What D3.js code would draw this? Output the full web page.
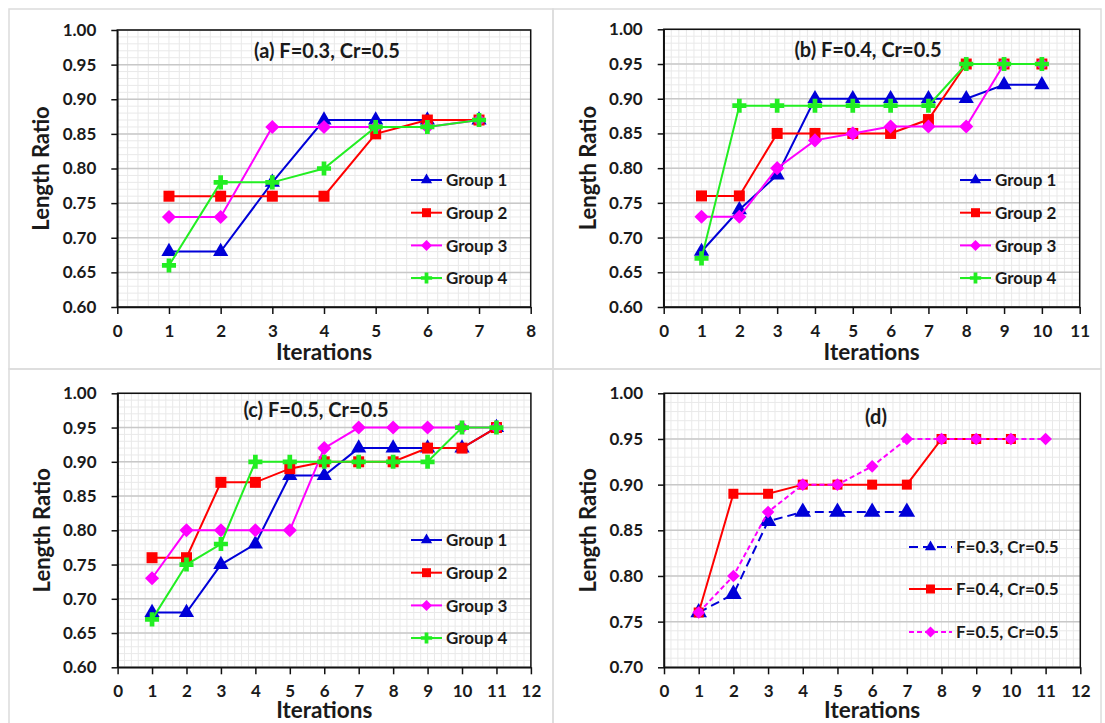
<!DOCTYPE html>
<html>
<head>
<meta charset="utf-8">
<script src="https://cdn.jsdelivr.net/npm/d3@7"></script>
<style>
  body { margin: 0; background: #fff; }
  svg text { font-family: Lato, 'Open Sans', sans-serif; font-weight: bold; fill: #1a1a1a; }
</style>
</head>
<body>
<svg id="chart" width="1105" height="723"></svg>
<script>
// ---- data ----
const groupNames = ['Group 1', 'Group 2', 'Group 3', 'Group 4'];
const settingNames = ['F=0.3, Cr=0.5', 'F=0.4, Cr=0.5', 'F=0.5, Cr=0.5'];

const xTicksA = [0, 1, 2, 3, 4, 5, 6, 7, 8];
const xTicksB = [0, 1, 2, 3, 4, 5, 6, 7, 8, 9, 10, 11];
const xTicksC = [0, 1, 2, 3, 4, 5, 6, 7, 8, 9, 10, 11, 12];
const yTicksABC = [0.60, 0.65, 0.70, 0.75, 0.80, 0.85, 0.90, 0.95, 1.00];
const yTicksD = [0.70, 0.75, 0.80, 0.85, 0.90, 0.95, 1.00];

const iter7 = [1, 2, 3, 4, 5, 6, 7];
const iter10 = [1, 2, 3, 4, 5, 6, 7, 8, 9, 10];
const iter11 = [1, 2, 3, 4, 5, 6, 7, 8, 9, 10, 11];

// (a) F=0.3
const a1 = [0.68, 0.68, 0.78, 0.87, 0.87, 0.87, 0.87];
const a2 = [0.76, 0.76, 0.76, 0.76, 0.85, 0.87, 0.87];
const a3 = [0.73, 0.73, 0.86, 0.86, 0.86, 0.86, 0.87];
const a4 = [0.66, 0.78, 0.78, 0.80, 0.86, 0.86, 0.87];
// (b) F=0.4
const b1 = [0.68, 0.74, 0.79, 0.90, 0.90, 0.90, 0.90, 0.90, 0.92, 0.92];
const b2 = [0.76, 0.76, 0.85, 0.85, 0.85, 0.85, 0.87, 0.95, 0.95, 0.95];
const b3 = [0.73, 0.73, 0.80, 0.84, 0.85, 0.86, 0.86, 0.86, 0.95, 0.95];
const b4 = [0.67, 0.89, 0.89, 0.89, 0.89, 0.89, 0.89, 0.95, 0.95, 0.95];
// (c) F=0.5
const c1 = [0.68, 0.68, 0.75, 0.78, 0.88, 0.88, 0.92, 0.92, 0.92, 0.92, 0.95];
const c2 = [0.76, 0.76, 0.87, 0.87, 0.89, 0.90, 0.90, 0.90, 0.92, 0.92, 0.95];
const c3 = [0.73, 0.80, 0.80, 0.80, 0.80, 0.92, 0.95, 0.95, 0.95, 0.95, 0.95];
const c4 = [0.67, 0.75, 0.78, 0.90, 0.90, 0.90, 0.90, 0.90, 0.90, 0.95, 0.95];
// (d) best of each setting
const d1 = [0.76, 0.78, 0.86, 0.87, 0.87, 0.87, 0.87];
const d2 = [0.76, 0.89, 0.89, 0.90, 0.90, 0.90, 0.90, 0.95, 0.95, 0.95];
const d3v = [0.76, 0.80, 0.87, 0.90, 0.90, 0.92, 0.95, 0.95, 0.95, 0.95, 0.95];

// ---- styles ----
const STYLES = [
  { color: '#0000d8', shape: 'triangle', size: 100, legendSize: 55 },
  { color: '#ff0000', shape: 'square', size: 121, legendSize: 81 },
  { color: '#ff00ff', shape: 'diamond', size: 100, legendSize: 60 },
  { color: '#22ee22', shape: 'cross', size: 110, legendSize: 70 }
];

function zip (xs, ys) { return xs.map((x, i) => ({ x: x, y: ys[i] })); }

const panels = [
  {
    frame: [9, 9, 544, 360],
    left: 117.3, right: 530.7, top: 30, bottom: 307, xTitleDy: 53,
    xTicks: xTicksA, yTicks: yTicksABC,
    title: '(a) F=0.3, Cr=0.5', titleX: 327, titleY: 58,
    legendX: 411, legendW: 31, legendY: [180, 212.7, 245.4, 278],
    series: [a1, a2, a3, a4].map((v, i) => ({ name: groupNames[i], pts: zip(iter7, v), st: STYLES[i] }))
  },
  {
    frame: [553, 9, 548, 360],
    left: 663.7, right: 1079.7, top: 29.3, bottom: 307, xTitleDy: 53,
    xTicks: xTicksB, yTicks: yTicksABC,
    title: '(b) F=0.4, Cr=0.5', titleX: 868, titleY: 57,
    legendX: 960, legendW: 31, legendY: [180, 212.7, 245.4, 278],
    series: [b1, b2, b3, b4].map((v, i) => ({ name: groupNames[i], pts: zip(iter10, v), st: STYLES[i] }))
  },
  {
    frame: [9, 369, 544, 360],
    left: 117.6, right: 530.9, top: 393.3, bottom: 667.3, xTitleDy: 50.5,
    xTicks: xTicksC, yTicks: yTicksABC,
    title: '(c) F=0.5, Cr=0.5', titleX: 316, titleY: 417,
    legendX: 411, legendW: 31, legendY: [540, 572.7, 605.4, 638],
    series: [c1, c2, c3, c4].map((v, i) => ({ name: groupNames[i], pts: zip(iter11, v), st: STYLES[i] }))
  },
  {
    frame: [553, 369, 548, 360],
    left: 664, right: 1080.3, top: 393.3, bottom: 667.3, xTitleDy: 50.5,
    xTicks: xTicksC, yTicks: yTicksD,
    title: '(d)', titleX: 876, titleY: 424,
    legendX: 909, legendW: 43, legendY: [547, 589, 632],
    series: [
      { name: settingNames[0], pts: zip(iter7, d1), st: STYLES[0], dash: '9,5', size: 120 },
      { name: settingNames[1], pts: zip(iter10, d2), st: STYLES[1], size: 100 },
      { name: settingNames[2], pts: zip(iter11, d3v), st: STYLES[2], dash: '5,3', size: 80 }
    ]
  }
];

const svg = d3.select('#chart');

function symbolPath (shape, size) {
  if (shape === 'triangle') return d3.symbol(d3.symbolTriangle, size)();
  if (shape === 'cross') return d3.symbol(d3.symbolCross, size)();
  return d3.symbol(d3.symbolSquare, size)();
}

function drawMarker (g, st, size, x, y) {
  g.append('path')
    .attr('d', symbolPath(st.shape, size))
    .attr('transform', 'translate(' + x + ',' + y + ')' + (st.shape === 'diamond' ? ' rotate(45)' : ''))
    .attr('fill', st.color);
}

panels.forEach(p => {
  const xMax = p.xTicks[p.xTicks.length - 1];
  const yMin = p.yTicks[0];
  const x = d3.scaleLinear().domain([0, xMax]).range([p.left, p.right]);
  const y = d3.scaleLinear().domain([yMin, 1.0]).range([p.bottom, p.top]);

  const g = svg.append('g');

  // panel frame
  g.append('rect')
    .attr('x', p.frame[0]).attr('y', p.frame[1])
    .attr('width', p.frame[2]).attr('height', p.frame[3])
    .attr('fill', 'none').attr('stroke', '#dcdcdc').attr('stroke-width', 1.5);

  // minor grid
  const grid = g.append('g');
  grid.selectAll('.vminor')
    .data(d3.range(0, xMax + 1e-9, 0.2))
    .enter().append('line')
    .attr('x1', d => x(d)).attr('x2', d => x(d))
    .attr('y1', p.top).attr('y2', p.bottom)
    .attr('stroke', '#e9e9e9').attr('stroke-width', 1);
  grid.selectAll('.hminor')
    .data(d3.range(Math.round(yMin * 100), 101, 1))
    .enter().append('line')
    .attr('x1', p.left).attr('x2', p.right)
    .attr('y1', d => y(d / 100)).attr('y2', d => y(d / 100))
    .attr('stroke', '#e9e9e9').attr('stroke-width', 1);
  // major horizontal grid
  grid.selectAll('.hmajor')
    .data(p.yTicks)
    .enter().append('line')
    .attr('x1', p.left).attr('x2', p.right)
    .attr('y1', d => y(d)).attr('y2', d => y(d))
    .attr('stroke', '#c8c8c8').attr('stroke-width', 1.5);

  // plot border
  g.append('rect')
    .attr('x', p.left).attr('y', p.top)
    .attr('width', p.right - p.left).attr('height', p.bottom - p.top)
    .attr('fill', 'none').attr('stroke', '#111').attr('stroke-width', 1.5);

  // axes
  const yAxis = g.append('g')
    .attr('transform', 'translate(' + p.left + ',0)')
    .call(d3.axisLeft(y).tickValues(p.yTicks).tickFormat(d3.format('.2f'))
      .tickSize(6).tickSizeOuter(0).tickPadding(15));
  const xAxis = g.append('g')
    .attr('transform', 'translate(0,' + p.bottom + ')')
    .call(d3.axisBottom(x).tickValues(p.xTicks).tickFormat(d3.format('d'))
      .tickSize(7).tickSizeOuter(0).tickPadding(11));
  [yAxis, xAxis].forEach(ax => {
    ax.attr('font-family', null).attr('font-size', null);
    ax.selectAll('path, line').attr('stroke', '#111').attr('stroke-width', 1.5);
    ax.selectAll('text').style('font-size', '17px').attr('fill', '#1a1a1a');
  });

  // axis titles
  g.append('text')
    .attr('x', (p.left + p.right) / 2).attr('y', p.bottom + p.xTitleDy)
    .attr('text-anchor', 'middle')
    .style('font-size', '22.5px')
    .text('Iterations');
  g.append('text')
    .attr('transform', 'translate(' + (p.left - 68) + ',' + ((p.top + p.bottom) / 2) + ') rotate(-90)')
    .attr('text-anchor', 'middle')
    .style('font-size', '22px')
    .text('Length Ratio');

  // series
  const line = d3.line().x(d => x(d.x)).y(d => y(d.y));
  p.series.forEach(s => {
    g.append('path')
      .datum(s.pts)
      .attr('d', line)
      .attr('fill', 'none')
      .attr('stroke', s.st.color)
      .attr('stroke-width', 2)
      .attr('stroke-dasharray', s.dash || null);
    const mg = g.append('g');
    s.pts.forEach(d => drawMarker(mg, s.st, s.size || s.st.size, x(d.x), y(d.y)));
  });

  // legend
  const lg = g.append('g');
  p.series.forEach((s, i) => {
    const ly = p.legendY[i];
    lg.append('line')
      .attr('x1', p.legendX).attr('x2', p.legendX + p.legendW)
      .attr('y1', ly).attr('y2', ly)
      .attr('stroke', s.st.color).attr('stroke-width', 2)
      .attr('stroke-dasharray', s.dash || null);
    drawMarker(lg, s.st, s.st.legendSize, p.legendX + p.legendW / 2, ly);
    lg.append('text')
      .attr('x', p.legendX + p.legendW + 4).attr('y', ly)
      .attr('dy', '0.36em')
      .style('font-size', '17px')
      .text(s.name);
  });

  // panel title
  g.append('text')
    .attr('x', p.titleX).attr('y', p.titleY)
    .attr('text-anchor', 'middle')
    .style('font-size', '20px')
    .text(p.title);
});
</script>
</body>
</html>
